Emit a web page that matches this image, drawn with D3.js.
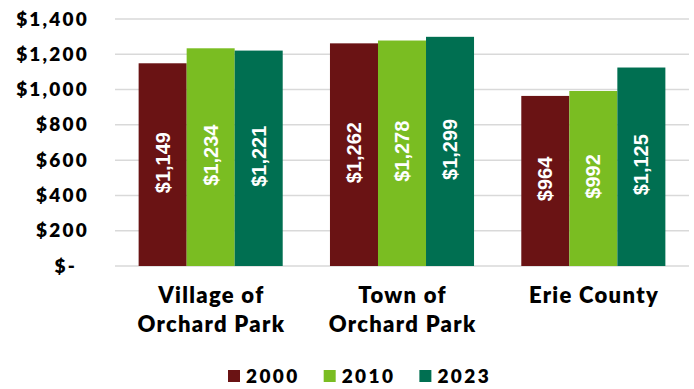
<!DOCTYPE html>
<html>
<head>
<meta charset="utf-8">
<script src="https://cdn.jsdelivr.net/npm/d3@7"></script>
<style>
  html, body { margin: 0; padding: 0; background: #fff; }
  svg { display: block; }
  .tick-label { font-family: Lato, "Open Sans", sans-serif; font-weight: 800; font-size: 19px; letter-spacing: 2.2px; fill: #000; }
  .cat-label { font-family: Lato, "Open Sans", sans-serif; font-weight: 800; font-size: 22px; letter-spacing: 1.3px; fill: #000; }
  .legend-label { font-family: Lato, "Open Sans", sans-serif; font-weight: 800; font-size: 19px; letter-spacing: 2.4px; fill: #000; }
  .value-label { font-family: "Liberation Sans", Arial, sans-serif; font-weight: 700; font-size: 20px; fill: #fff; }
</style>
</head>
<body>
<svg id="chart" width="694" height="389"></svg>
<script>
// Median gross rent by place and year
const categories = [["Village of", "Orchard Park"], ["Town of", "Orchard Park"], ["Erie County"]];
const years = ["2000", "2010", "2023"];
const rent2000 = [1149, 1262, 964];
const rent2010 = [1234, 1278, 992];
const rent2023 = [1221, 1299, 1125];
const yTicks = [0, 200, 400, 600, 800, 1000, 1200, 1400];
const yTickLabels = ["$-", "$200", "$400", "$600", "$800", "$1,000", "$1,200", "$1,400"];
const seriesColors = ["#6a1314", "#7abd22", "#006f51"];

const series = [rent2000, rent2010, rent2023];
const svg = d3.select("#chart");

const plot = { left: 115, right: 689, top: 19, bottom: 266 };

const x0 = d3.scaleBand()
  .domain(d3.range(categories.length))
  .range([plot.left, plot.right])
  .paddingInner(0.247)
  .paddingOuter(0.1235);

const x1 = d3.scaleBand()
  .domain(d3.range(years.length))
  .range([0, x0.bandwidth()])
  .padding(0);

const y = d3.scaleLinear()
  .domain([0, 1400])
  .range([plot.bottom, plot.top]);

// Horizontal gridlines
svg.append("g")
  .selectAll("line")
  .data(yTicks)
  .join("line")
  .attr("x1", plot.left)
  .attr("x2", plot.right)
  .attr("y1", d => y(d))
  .attr("y2", d => y(d))
  .attr("stroke", "#d9d9d9")
  .attr("stroke-width", 1.5);

// Y axis labels (letter-spacing trails the last glyph, so shift back by it)
const yAxis = d3.axisLeft(y)
  .tickValues(yTicks)
  .tickSize(0)
  .tickPadding(0)
  .tickFormat((d, i) => yTickLabels[i]);

const yAxisG = svg.append("g")
  .attr("transform", `translate(89,0)`)
  .call(yAxis);
yAxisG.select(".domain").remove();
yAxisG.selectAll("text")
  .attr("class", "tick-label")
  .attr("font-family", null)
  .attr("font-size", null)
  .attr("fill", null)
  .attr("dx", d => d === 0 ? -12 : 0);

// Bars
const groups = svg.append("g")
  .selectAll("g")
  .data(categories.map((c, i) => i))
  .join("g")
  .attr("transform", i => `translate(${x0(i)},0)`);

groups.selectAll("rect")
  .data(i => series.map((s, k) => ({ k, v: s[i] })))
  .join("rect")
  .attr("x", d => x1(d.k))
  .attr("y", d => y(d.v))
  .attr("width", x1.bandwidth())
  .attr("height", d => y(0) - y(d.v))
  .attr("fill", d => seriesColors[d.k]);

// Value labels, rotated inside the bars
groups.selectAll("text.value-label")
  .data(i => series.map((s, k) => ({ k, v: s[i] })))
  .join("text")
  .attr("class", "value-label")
  .attr("text-anchor", "middle")
  .attr("dominant-baseline", "central")
  .attr("transform", d => {
    const cx = x1(d.k) + x1.bandwidth() / 2;
    const cy = (y(d.v) + y(0)) / 2 - 2;
    return `translate(${cx},${cy}) rotate(-90)`;
  })
  .text(d => d3.format("$,")(d.v));

// Category labels
const catG = svg.append("g");
categories.forEach((lines, i) => {
  const cx = x0(i) + x0.bandwidth() / 2 + 0.65;
  const t = catG.append("text")
    .attr("class", "cat-label")
    .attr("text-anchor", "middle")
    .attr("x", cx)
    .attr("y", 303);
  lines.forEach((line, j) => {
    t.append("tspan")
      .attr("x", cx)
      .attr("dy", j === 0 ? 0 : 28.7)
      .text(line);
  });
});

// Legend
const legend = svg.append("g");
const items = legend.selectAll("g")
  .data(years)
  .join("g");
items.append("rect")
  .attr("width", 12)
  .attr("height", 12)
  .attr("y", 370)
  .attr("fill", (d, i) => seriesColors[i]);
items.append("text")
  .attr("class", "legend-label")
  .attr("x", 18)
  .attr("y", 383)
  .text(d => d);

const gap = 24;
const widths = [];
items.each(function () {
  widths.push(18 + this.querySelector("text").getComputedTextLength());
});
let cursor = 228;
items.attr("transform", (d, i) => {
  const tx = cursor;
  cursor += widths[i] + gap;
  return `translate(${tx},0)`;
});
</script>
</body>
</html>
